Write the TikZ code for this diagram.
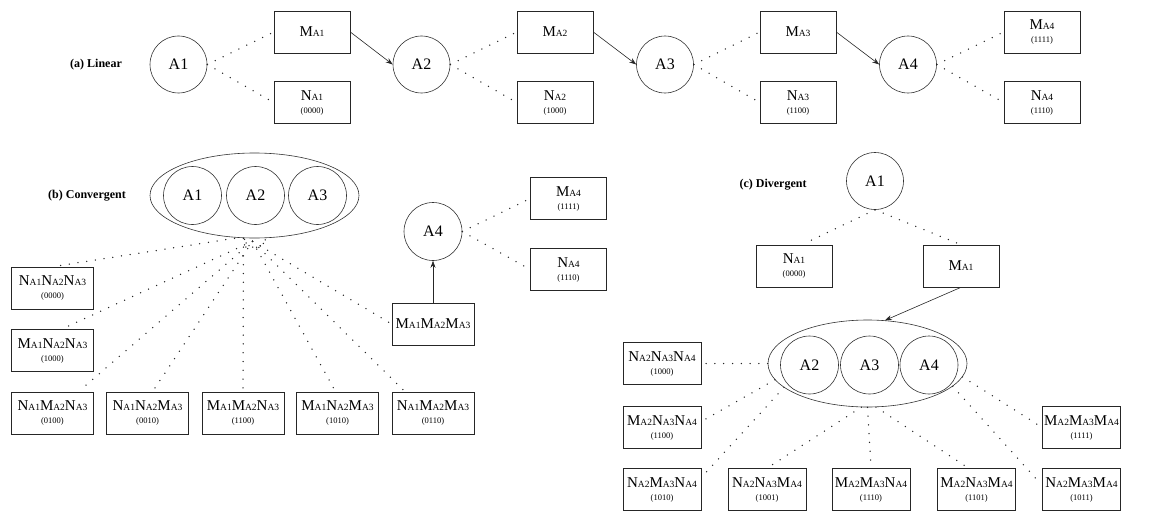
\documentclass[tikz,border=0pt]{standalone}
\usepackage{fontspec}
\setmainfont{Liberation Serif}
\usetikzlibrary{shapes.geometric,arrows.meta,calc}

% small capital-height index letters and the bit code under a state name
\newcommand\sx[1]{{\fontsize{9.5}{9.5}\selectfont #1}}
\newcommand\bits[1]{{\fontsize{8.5}{8.5}\selectfont(#1)}}

\tikzset{
  ent/.style={circle, draw=black!80, line width=0.6pt, minimum size=57pt, inner sep=0pt,
              font=\fontsize{16}{16}\selectfont},
  group/.style={ellipse, draw=black!80, line width=0.6pt, inner sep=0pt},
  state/.style={rectangle, draw=black!85, line width=0.6pt, minimum width=76pt, minimum height=42pt,
                inner sep=0pt, align=center, font=\fontsize{15}{13}\selectfont},
  wide/.style={state, minimum width=82pt},
  link/.style={draw=black!85, line width=1.5pt, dash pattern=on 0pt off 8.8pt, line cap=round},
  flow/.style={draw=black!85, line width=0.6pt, -{Stealth[length=7pt,width=5pt]}},
  tag/.style={font=\bfseries\fontsize{12}{12}\selectfont}
}

\begin{document}
\begin{tikzpicture}[x=1pt,y=-1pt]
\useasboundingbox (0,0) rectangle (1151,511);

% ---------------- (a) Linear ----------------
\node[tag] (la) at (96,65) {(a) Linear};
\node[ent] (A1a) at (178.5,64.5) {A1};
\node[ent] (A2a) at (421.5,64.5) {A2};
\node[ent] (A3a) at (665,64.5) {A3};
\node[ent] (A4a) at (908,64.5) {A4};
\node[state] (MA1a) at (312,32) {M\sx{A1}};
\node[state] (NA1a) at (312,102.5) {N\sx{A1}\\\bits{0000}};
\node[state] (MA2a) at (555,32) {M\sx{A2}};
\node[state] (NA2a) at (555,102.5) {N\sx{A2}\\\bits{1000}};
\node[state] (MA3a) at (798,32) {M\sx{A3}};
\node[state] (NA3a) at (798,102.5) {N\sx{A3}\\\bits{1100}};
\node[state] (MA4a) at (1042,32) {M\sx{A4}\\\bits{1111}};
\node[state] (NA4a) at (1042,102.5) {N\sx{A4}\\\bits{1110}};

\foreach \a/\m/\n in {A1a/MA1a/NA1a, A2a/MA2a/NA2a, A3a/MA3a/NA3a, A4a/MA4a/NA4a}{
  \draw[link, shorten >=2pt] (\a.east) -- (\m.west);
  \draw[link, shorten >=2pt] (\a.east) -- (\n.west);
}
\draw[flow] (MA1a.east) -- (A2a.west);
\draw[flow] (MA2a.east) -- (A3a.west);
\draw[flow] (MA3a.east) -- (A4a.west);

% ---------------- (b) Convergent ----------------
\node[tag] (lb) at (87,196) {(b) Convergent};
\node[group, minimum width=209pt, minimum height=85pt] (Eb) at (254.5,195.5) {};
\node[ent, minimum size=58pt] (B1) at (192.5,195.5) {A1};
\node[ent, minimum size=58pt] (B2) at (255.5,195.5) {A2};
\node[ent, minimum size=58pt] (B3) at (317.5,195.5) {A3};
\node[ent, minimum size=58pt] (A4b) at (433,231.5) {A4};
\node[state] (MA4b) at (568.5,198.5) {M\sx{A4}\\\bits{1111}};
\node[state] (NA4b) at (568.5,269.5) {N\sx{A4}\\\bits{1110}};
\node[wide] (b8) at (433,324) {M\sx{A1}M\sx{A2}M\sx{A3}};
\node[wide] (b1) at (52.5,288) {N\sx{A1}N\sx{A2}N\sx{A3}\\\bits{0000}};
\node[wide] (b2) at (52.5,350.5) {M\sx{A1}N\sx{A2}N\sx{A3}\\\bits{1000}};
\node[wide] (b3) at (52.5,413) {N\sx{A1}M\sx{A2}N\sx{A3}\\\bits{0100}};
\node[wide] (b4) at (147.5,413) {N\sx{A1}N\sx{A2}M\sx{A3}\\\bits{0010}};
\node[wide] (b5) at (243,413) {M\sx{A1}M\sx{A2}N\sx{A3}\\\bits{1100}};
\node[wide] (b6) at (337.5,413) {M\sx{A1}N\sx{A2}M\sx{A3}\\\bits{1010}};
\node[wide] (b7) at (433,413) {N\sx{A1}M\sx{A2}M\sx{A3}\\\bits{0110}};

\draw[link, shorten >=2pt] (A4b.east) -- (MA4b.west);
\draw[link, shorten >=2pt] (A4b.east) -- (NA4b.west);
\draw[flow] (b8.north) -- (A4b.south);

% fan of dotted links under the group
\coordinate (hb) at ($(Eb.south)+(-2,3)$);
\draw[link, dash pattern=on 0pt off 4pt] ($(Eb.south)+(-10,1)$) .. controls ($(Eb.south)+(-7,12)$) and ($(Eb.south)+(8,12)$) .. ($(Eb.south)+(11,1)$);
\draw[link] ($(Eb.south)+(-20,0)$) -- (b1.north);
\draw[link, shorten >=5pt] (hb) -- ($(b2.north)+(9,0)$);
\draw[link, shorten >=2pt] (hb) -- ($(b3.north)+(26,0)$);
\draw[link, shorten >=4pt] (hb) -- ($(b4.north)+(5,0)$);
\draw[link, shorten >=2pt] ($(Eb.south)+(-11,0)$) -- (b5.north);
\draw[link, shorten >=2pt] (hb) -- ($(b6.north)+(-2,0)$);
\draw[link, shorten >=2pt] (hb) -- ($(b7.north)+(-28,0)$);
\draw[link, shorten >=2pt] (hb) -- (b8.west);

% ---------------- (c) Divergent ----------------
\node[tag] (lc) at (773,185) {(c) Divergent};
\node[ent] (A1c) at (875,181) {A1};
\node[state] (NA1c) at (794,266) {N\sx{A1}\\\bits{0000}};
\node[state] (MA1c) at (961,266) {M\sx{A1}};
\node[group, minimum width=199pt, minimum height=87pt] (Ec) at (867.5,363.5) {};
\node[ent, minimum size=58pt] (C2) at (809.5,365) {A2};
\node[ent, minimum size=58pt] (C3) at (869.5,365) {A3};
\node[ent, minimum size=58pt] (C4) at (929,365) {A4};
\node[wide, minimum width=78pt] (c1) at (662,363.5) {N\sx{A2}N\sx{A3}N\sx{A4}\\\bits{1000}};
\node[wide, minimum width=78pt] (c2) at (662,427.5) {M\sx{A2}N\sx{A3}N\sx{A4}\\\bits{1100}};
\node[wide, minimum width=78pt] (c3) at (662,489.5) {N\sx{A2}M\sx{A3}N\sx{A4}\\\bits{1010}};
\node[wide, minimum width=78pt] (c4) at (767,489.5) {N\sx{A2}N\sx{A3}M\sx{A4}\\\bits{1001}};
\node[wide, minimum width=78pt] (c5) at (871,489.5) {M\sx{A2}M\sx{A3}N\sx{A4}\\\bits{1110}};
\node[wide, minimum width=78pt] (c6) at (976.5,489.5) {M\sx{A2}N\sx{A3}M\sx{A4}\\\bits{1101}};
\node[wide, minimum width=78pt] (c7) at (1081.5,427.5) {M\sx{A2}M\sx{A3}M\sx{A4}\\\bits{1111}};
\node[wide, minimum width=78pt] (c8) at (1081.5,489.5) {N\sx{A2}M\sx{A3}M\sx{A4}\\\bits{1011}};

\draw[link, shorten >=2pt] (A1c.south) -- ($(NA1c.north)+(8,0)$);
\draw[link, shorten >=2pt] (A1c.south) -- (MA1c.north);
\draw[flow] (MA1c.south) -- (Ec.68);

\draw[link, shorten >=3pt] (Ec.west) -- (c1.east);
\draw[link, shorten >=3pt] (Ec.190) -- ($(c2.east)+(0,-6)$);
\draw[link, shorten >=3pt] (Ec.196) -- ($(c3.east)+(0,-12)$);
\draw[link, shorten >=2pt] (Ec.262) -- (c4.north);
\draw[link, shorten >=2pt] (Ec.south) -- (c5.north);
\draw[link, shorten >=2pt] (Ec.281) -- ($(c6.north)+(-8,0)$);
\draw[link, shorten >=3pt] (Ec.352) -- (c7.west);
\draw[link, shorten >=3pt] (Ec.345) -- ($(c8.west)+(0,-4)$);
\end{tikzpicture}
\end{document}
